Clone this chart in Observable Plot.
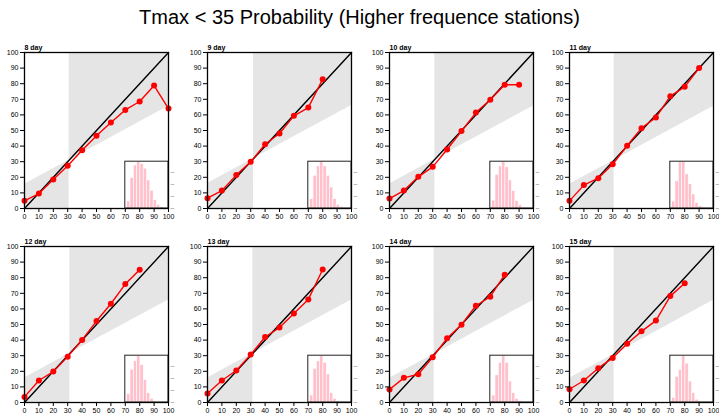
<!DOCTYPE html>
<html><head><meta charset="utf-8">
<script src="https://cdn.jsdelivr.net/npm/d3@7"></script>
<script src="https://cdn.jsdelivr.net/npm/@observablehq/plot@0.6"></script>
<style>
body{margin:0;background:#fff;}
#wrap{position:relative;width:719px;height:420px;overflow:hidden;font-family:"Liberation Sans",Arial,sans-serif;}
#title{position:absolute;left:0;top:6px;width:719px;text-align:center;font-size:20px;color:#000;}
.panel{position:absolute;}
</style></head><body>
<div id="wrap"><div id="title">Tmax &lt; 35 Probability (Higher frequence stations)</div></div>
<script>
// ---- data ----
const panelLabels = ["8 day","9 day","10 day","11 day","12 day","13 day","14 day","15 day"];
const probBins = [0,10,20,30,40,50,60,70,80,90,100];
const observed = [
  [4.9, 9.6, 18.6, 27.4, 37.4, 46.6, 55.1, 63.2, 68.6, 78.8, 64.1],
  [6.6, 11.5, 21.4, 29.9, 41.2, 48.1, 59.4, 64.7, 82.9],
  [6.4, 11.5, 20.3, 26.7, 37.8, 49.6, 61.5, 69.7, 79.3, 79.3],
  [4.9, 15.0, 19.4, 28.4, 40.2, 51.5, 58.3, 72.0, 78.0, 90.0],
  [3.6, 14.1, 19.8, 29.4, 40.1, 52.2, 63.3, 75.9, 85.1],
  [5.8, 14.1, 20.5, 30.7, 42.0, 48.0, 57.1, 66.1, 85.3],
  [8.3, 15.8, 18.1, 29.0, 41.2, 49.9, 62.0, 67.8, 81.9],
  [8.5, 14.1, 22.0, 28.6, 37.6, 45.6, 52.5, 68.2, 76.5]
];
const climatology = [31, 32, 31.5, 31, 31.5, 31.5, 31, 31];
// sharpness histogram (relative frequency, fraction of max) per panel
const sharpness = [
  [0.15,0.65,0.92,1.0,0.95,0.85,0.60,0.38,0.18,0.08,0.03],
  [0.20,0.70,0.90,1.0,0.90,0.70,0.45,0.20,0.08,0.03,0.01],
  [0.17,0.72,0.90,1.0,0.88,0.60,0.37,0.16,0.07,0.02,0.01],
  [0.15,0.58,1.00,1.0,0.73,0.52,0.30,0.12,0.05,0.02,0.00],
  [0.18,0.70,0.88,1.0,0.80,0.48,0.20,0.08,0.02,0.01,0.00],
  [0.15,0.72,0.88,1.0,0.85,0.60,0.20,0.08,0.03,0.01,0.00],
  [0.15,0.58,0.85,1.0,0.85,0.45,0.20,0.08,0.03,0.01,0.00],
  [0.10,0.55,0.70,1.0,0.83,0.45,0.20,0.06,0.02,0.01,0.00]
];
const axisTicks = [0,10,20,30,40,50,60,70,80,90,100];
const histTicks = [0, 0.257, 0.513, 0.77];

// ---- layout ----
const colLeft = [0, 182.5, 364.5, 545];
const rowTop = [40, 234];
const inset = {x1: 70, x2: 100, y1: 0, y2: 30};
const binW = 2.3, binStart = 71.3;

const wrap = document.getElementById("wrap");
panelLabels.forEach((lab, i) => {
  const c = climatology[i];
  const pts = observed[i].map((v, k) => ({x: probBins[k], y: v}));
  const shadeLow = [{x: 0, y1: 0, y2: c / 2}, {x: c, y1: 0, y2: c}];
  const shadeHigh = [{x: c, y1: c, y2: 100}, {x: 100, y1: (100 + c) / 2, y2: 100}];
  const hist = sharpness[i].map((h, k) => ({
    x1: binStart + k * binW, x2: binStart + (k + 1) * binW,
    y: inset.y1 + h * (inset.y2 - inset.y1)
  }));
  const hticks = histTicks.map(t => ({y: inset.y1 + t * (inset.y2 - inset.y1)}));
  const diag = [{x: 0, y: 0}, {x: 100, y: 100}];
  const chart = Plot.plot({
    width: 182, height: 188,
    marginLeft: 24, marginRight: 14, marginTop: 12, marginBottom: 20,
    style: {fontFamily: "'Liberation Sans', Arial, sans-serif", fontSize: "7px", color: "#000", background: "transparent", overflow: "visible"},
    x: {domain: [0, 100]},
    y: {domain: [0, 100]},
    marks: [
      Plot.areaY(shadeLow, {x: "x", y1: "y1", y2: "y2", fill: "#e5e5e5"}),
      Plot.areaY(shadeHigh, {x: "x", y1: "y1", y2: "y2", fill: "#e5e5e5"}),
      Plot.rect(hist, {x1: "x1", x2: "x2", y1: inset.y1, y2: "y", fill: "#ffc0cb", stroke: "white", strokeWidth: 0.6}),
      Plot.rect([inset], {x1: "x1", x2: "x2", y1: "y1", y2: "y2", fill: "none", stroke: "#222", strokeWidth: 1}),
      Plot.link(hticks, {x1: 101.5, x2: 104, y1: "y", y2: "y", stroke: "#aaa", strokeWidth: 0.8}),
      Plot.line(diag, {x: "x", y: "y", stroke: "#000", strokeWidth: 1.4}),
      Plot.line(pts, {x: "x", y: "y", stroke: "#ff0000", strokeWidth: 1.4}),
      Plot.dot(pts, {x: "x", y: "y", r: 3, fill: "#ff0000", stroke: "none"}),
      Plot.frame({stroke: "#000", strokeWidth: 1.3}),
      Plot.axisX({ticks: axisTicks, tickSize: 4, tickPadding: 2, fontSize: 7, label: null}),
      Plot.axisY({ticks: axisTicks, tickSize: 4, tickPadding: 2, fontSize: 7, label: null}),
      Plot.text([lab], {frameAnchor: "top-left", textAnchor: "start", lineAnchor: "bottom", dy: -3, fontSize: 7, fontWeight: "bold", fill: "#000"})
    ]
  });
  chart.classList.add("panel");
  chart.style.left = colLeft[i % 4] + "px";
  chart.style.top = rowTop[Math.floor(i / 4)] + "px";
  chart.style.position = "absolute";
  wrap.appendChild(chart);
});
</script>
</body></html>
